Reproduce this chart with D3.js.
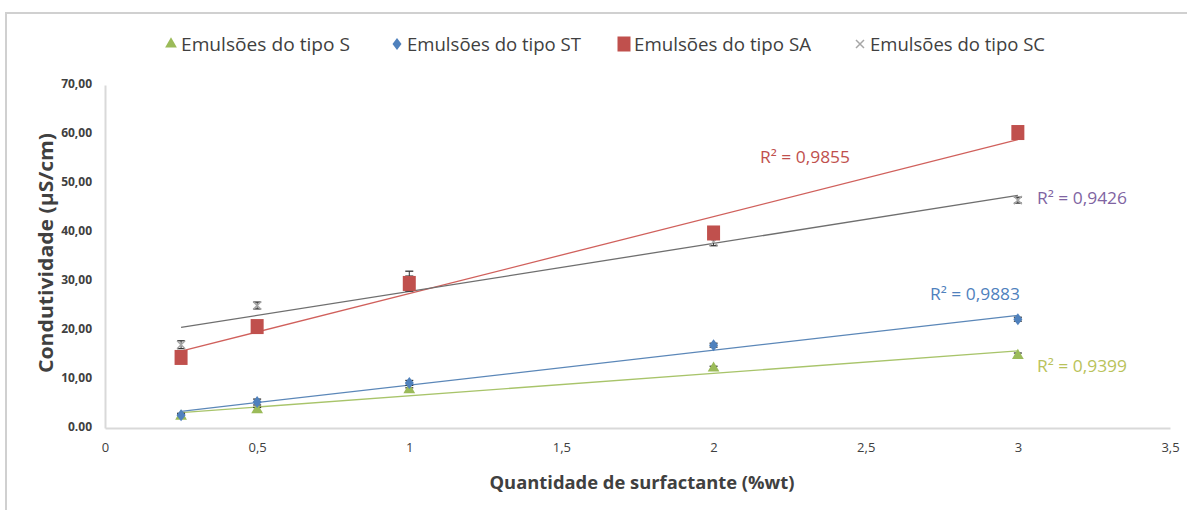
<!DOCTYPE html>
<html><head><meta charset="utf-8">
<script src="https://cdn.jsdelivr.net/npm/d3@7"></script>
<style>
html,body{margin:0;padding:0;background:#fff;}
svg{display:block;}
text{font-family:"Open Sans",sans-serif;}
</style></head>
<body>
<svg id="c" width="1187" height="510"></svg>
<script>
// ---- data ----
const xValues = [0.25, 0.5, 1, 2, 3];
const seriesNames = ["Emulsões do tipo S", "Emulsões do tipo ST", "Emulsões do tipo SA", "Emulsões do tipo SC"];
const valuesS  = [2.4, 3.7, 7.8, 12.2, 14.8];
const valuesST = [2.6, 5.3, 9.2, 16.9, 22.2];
const valuesSA = [14.4, 20.7, 29.5, 39.8, 60.3];
const valuesSC = [17.0, 25.0, 30.0, 38.0, 46.5];
const errS  = [0.4, 0.5, 0.4, 0.4, 0.5];
const errST = [0.4, 0.6, 0.5, 0.4, 0.4];
const errSA = [0.8, 0.8, 1.5, 1.0, 1.2];
const errSC = [0.8, 0.7, 2.0, 0.8, 0.6];
const r2Labels = ["R² = 0,9399", "R² = 0,9883", "R² = 0,9855", "R² = 0,9426"];
const xTicks = [0, 0.5, 1, 1.5, 2, 2.5, 3, 3.5];
const xTickLabels = ["0", "0,5", "1", "1,5", "2", "2,5", "3", "3,5"];
const yTicks = [0, 10, 20, 30, 40, 50, 60, 70];
const yTickLabels = ["0.00", "10,00", "20,00", "30,00", "40,00", "50,00", "60,00", "70,00"];

const colors = ["#9bbb59", "#4f81bd", "#c0504d", "#a6a6a6"];
const trendColors = ["#a8c46a", "#5b87b8", "#d0605c", "#6f6f6f"];
const r2Colors = ["#b9c25a", "#4f81bd", "#c0504d", "#8064a2"];
const shapes = ["triangle", "diamond", "square", "x"];

const svg = d3.select("#c");
// frame
svg.append("path").attr("d", "M6,510 V13 H1187").attr("fill", "none").attr("stroke", "#d0d0d0").attr("stroke-width", 2);

const x = d3.scaleLinear().domain([0, 3.5]).range([105, 1170]);
const y = d3.scaleLinear().domain([0, 70]).range([428, 85]);

// axes
const xAxis = d3.axisBottom(x).tickValues(xTicks).tickFormat((d, i) => xTickLabels[i]).tickSize(0).tickPadding(15);
const gx = svg.append("g").attr("transform", "translate(0,428)").call(xAxis);
gx.select(".domain").attr("stroke", "#d9d9d9").attr("stroke-width", 2);
gx.selectAll("text").attr("font-size", 13).attr("fill", "#404040")
  .style("font-family", "'Open Sans',sans-serif");

const yAxis = d3.axisLeft(y).tickValues(yTicks).tickFormat((d, i) => yTickLabels[i]).tickSize(0).tickPadding(13);
const gy = svg.append("g").attr("transform", "translate(105,0)").call(yAxis);
gy.select(".domain").attr("stroke", "#d9d9d9").attr("stroke-width", 2);
gy.selectAll("text").attr("font-size", 12).attr("fill", "#404040").attr("font-weight", "bold")
  .attr("dy", "0.2em").style("font-family", "'Open Sans',sans-serif");

// axis titles
svg.append("text").attr("x", 642).attr("y", 489).attr("text-anchor", "middle")
  .attr("font-size", 18).attr("font-weight", "bold").attr("fill", "#404040")
  .attr("textLength", 305).attr("lengthAdjust", "spacingAndGlyphs").text("Quantidade de surfactante (%wt)");
svg.append("text").attr("transform", "translate(53,253) rotate(-90)").attr("text-anchor", "middle")
  .attr("font-size", 20).attr("font-weight", "bold").attr("fill", "#404040")
  .attr("textLength", 240).attr("lengthAdjust", "spacingAndGlyphs").text("Condutividade  (µS/cm)");

const allValues = [valuesS, valuesST, valuesSA, valuesSC];
const allErr = [errS, errST, errSA, errSC];

function regression(xs, ys) {
  const mx = d3.mean(xs), my = d3.mean(ys);
  let sxy = 0, sxx = 0;
  xs.forEach((v, i) => { sxy += (v - mx) * (ys[i] - my); sxx += (v - mx) ** 2; });
  const b = sxy / sxx;
  return { b, a: my - b * mx };
}

function drawMarker(g, shape, cx, cy, color) {
  if (shape === "triangle") {
    g.append("path").attr("d", d3.symbol(d3.symbolTriangle, 60)()).attr("transform", `translate(${cx},${cy})`).attr("fill", color);
  } else if (shape === "diamond") {
    g.append("path").attr("d", `M0,-6 L4.5,0 L0,6 L-4.5,0 Z`).attr("transform", `translate(${cx},${cy})`).attr("fill", color);
  } else if (shape === "square") {
    g.append("rect").attr("x", cx - 6.5).attr("y", cy - 7.5).attr("width", 13).attr("height", 15).attr("fill", color);
  } else {
    g.append("path").attr("d", "M-4,-4 L4,4 M-4,4 L4,-4").attr("transform", `translate(${cx},${cy})`).attr("stroke", color).attr("stroke-width", 1.5).attr("fill", "none");
  }
}

// trendlines
allValues.forEach((vals, s) => {
  const r = regression(xValues, vals);
  const x0 = xValues[0], x1 = xValues[xValues.length - 1];
  svg.append("line").attr("x1", x(x0)).attr("y1", y(r.a + r.b * x0)).attr("x2", x(x1)).attr("y2", y(r.a + r.b * x1))
    .attr("stroke", trendColors[s]).attr("stroke-width", 1.3);
});

// error bars first, then markers on top
const order = [3, 0, 1, 2];
order.forEach(s => {
  const g = svg.append("g");
  allValues[s].forEach((v, i) => {
    const cx = x(xValues[i]);
    const e = allErr[s][i];
    g.append("line").attr("x1", cx).attr("x2", cx).attr("y1", y(v - e)).attr("y2", y(v + e)).attr("stroke", "#333").attr("stroke-width", 1);
    [v - e, v + e].forEach(ev => g.append("line").attr("x1", cx - 4).attr("x2", cx + 4).attr("y1", y(ev)).attr("y2", y(ev)).attr("stroke", "#333").attr("stroke-width", 1.3));
  });
});
order.forEach(s => {
  const g = svg.append("g");
  allValues[s].forEach((v, i) => drawMarker(g, shapes[s], x(xValues[i]), y(v), colors[s]));
});

// R² labels
const r2Pos = [[1037, 372], [930, 300], [760, 163], [1037, 204]];
r2Labels.forEach((t, s) => {
  svg.append("text").attr("x", r2Pos[s][0]).attr("y", r2Pos[s][1]).attr("font-size", 16).attr("fill", r2Colors[s])
    .attr("textLength", 90).attr("lengthAdjust", "spacingAndGlyphs").text(t);
});

// legend
const legX = [171, 397, 624, 860];
const legW = [169, 174, 177, 175];
seriesNames.forEach((n, s) => {
  const g = svg.append("g");
  drawMarker(g, shapes[s], legX[s], 44, colors[s]);
  g.append("text").attr("x", legX[s] + 10).attr("y", 51).attr("font-size", 19).attr("fill", "#404040")
    .attr("textLength", legW[s]).attr("lengthAdjust", "spacingAndGlyphs").text(n);
});
</script>
</body></html>
